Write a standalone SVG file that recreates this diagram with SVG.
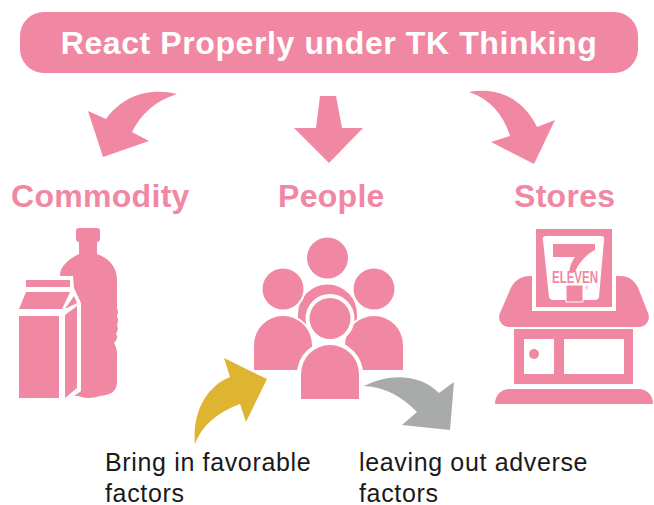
<svg xmlns="http://www.w3.org/2000/svg" width="654" height="505" viewBox="0 0 654 505">
<style>
.p{fill:#f087a3}
.w{fill:#fff}
.h{font-family:"Liberation Sans",Arial,sans-serif;font-weight:700;fill:#f087a3;font-size:32px;letter-spacing:.3px}
.t{font-family:"Liberation Sans",Arial,sans-serif;font-size:25px;fill:#1a1a1a;letter-spacing:.65px}
.o{stroke:#fff;paint-order:stroke}
</style>
<rect width="654" height="505" fill="#fff"/>
<g id="title"><rect class="p" x="20" y="12" width="618" height="61" rx="24"/>
<text x="329" y="54" text-anchor="middle" font-family="'Liberation Sans',Arial,sans-serif" font-weight="700" font-size="32" letter-spacing=".6" fill="#fff">React Properly under TK Thinking</text></g>
<g id="connectors">
<path class="p" d="M177 94C147 87 122 97 106 119L88 111L103 157L149 141L132 132C141 114 155 101 177 94Z"/>
<path class="p" d="M320 96H336L342 128H363L329 163L294 128H316Z"/>
<path class="p" d="M469 92C501 86 525 102 537 127L555 120L534 164L491 142L510 136C503 114 490 99 469 92Z"/>
<path fill="#deb431" d="M267 379L224 358L230 377C207 386 192 412 195 444C202 425 218 412 240 404L246 422Z"/>
<path fill="#a9abaa" d="M364 386C390 373 420 374 439 393L454 382L450 430L402 425L417 412C402 397 386 387 364 386Z"/>
</g>
<g id="commodity">
<text class="h" x="11" y="207">Commodity</text>
<path class="p" d="M79 228H97Q100 228 100 231V238Q100 242 97 242V254C108 258 117 266 117 280V309Q119 311 117 316Q119 320 117 325Q119 330 116 334Q119 338 114 343C118 350 117 355 117 360V382C117 392 110 395 100 396Q88 400 78 396L65 396L60 300V275C60 266 70 258 79 254V242Q76 242 76 238V231Q76 228 79 228Z"/>
<path class="w" d="M15 276H73L74 288L81 303V391L66 402H15Z"/>
<path class="p" d="M26 280H70V287H26ZM26 292H70L62 309H19ZM19 316H59V398H19ZM65 315L77 306V388L65 398ZM65 309L74 296L77 303Z"/>
</g>
<g id="people">
<text class="h" x="278" y="207">People</text>
<path class="p" d="M298 325V314A29 29 0 0 1 357 314V325Z"/>
<circle class="p" cx="327.500" cy="258" r="20.500"/>
<circle class="p o" cx="283" cy="289" r="20.500" stroke-width="4"/>
<circle class="p o" cx="374" cy="289" r="20.500" stroke-width="4"/>
<path class="p o" stroke-width="4" d="M254 370V345A29 29 0 0 1 312 345V370Z"/>
<path class="p o" stroke-width="4" d="M345 370V345A29 29 0 0 1 403 345V370Z"/>
<circle class="w" cx="330" cy="318.500" r="24.500"/>
<circle class="p" cx="330" cy="318.500" r="20.500"/>
<path class="p o" stroke-width="8" d="M301 399V374A29 29 0 0 1 359 374V399Z"/>
</g>
<g id="stores">
<text class="h" x="514" y="207">Stores</text>
<path class="p" d="M530 276H620C630 276 636 282 639 290L648 313C651 320 646 327 638 327H510C502 327 497 320 500 313L510 290C513 282 520 276 530 276Z"/>
<rect class="w" x="532" y="225" width="84" height="86"/>
<rect class="p" x="536" y="229" width="76" height="78"/>
<path class="w" d="M546 236H601Q605 236 604 240L599 297Q598 300 595 300H553Q550 300 549 297L543 240Q542 236 546 236Z"/>
<path class="p" d="M553 244H595V250C588 253 579 262 575 272H569C570 266 572 261 575 257H553Z"/>
<text x="552" y="283" font-family="'Liberation Sans',Arial,sans-serif" font-weight="700" font-size="16" fill="#f087a3" textLength="46" lengthAdjust="spacingAndGlyphs">ELEVEN</text>
<path class="p" d="M566 285H583V302H566Z" stroke="#fff" stroke-width="1"/>
<text x="585" y="290" font-family="'Liberation Sans',Arial,sans-serif" font-size="5" fill="#f087a3">®</text>
<path class="p" fill-rule="evenodd" d="M514 329H633V384H514ZM524 339V374H554V339ZM564 339V374H624V339Z"/>
<circle class="p" cx="534" cy="354" r="5"/>
<path class="p" d="M510 389H638C648 389 653 396 653 404H495C495 396 500 389 510 389Z"/>
</g>
<g id="labels">
<text class="t" x="105" y="471">Bring in favorable</text>
<text class="t" x="105" y="502">factors</text>
<text class="t" x="359" y="471">leaving out adverse</text>
<text class="t" x="359" y="502">factors</text>
</g>
</svg>
